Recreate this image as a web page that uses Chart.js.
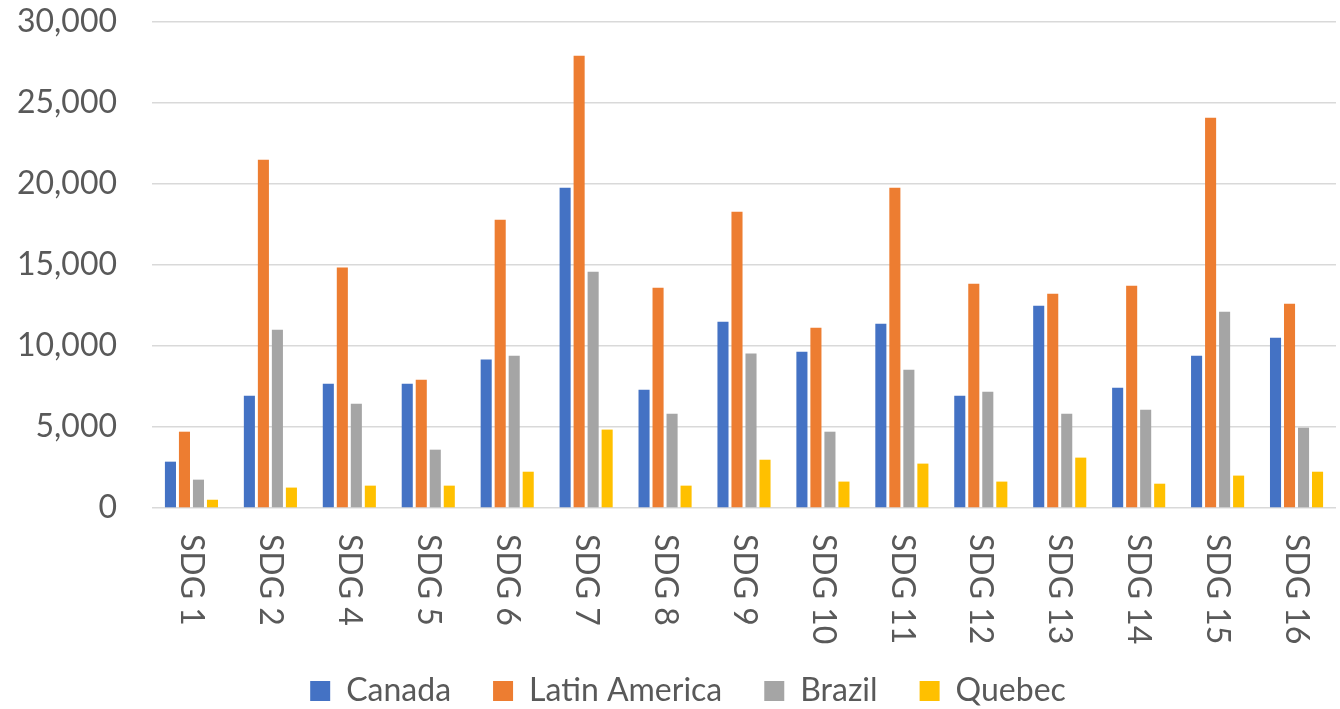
<!DOCTYPE html>
<html>
<head>
<meta charset="utf-8">
<script src="https://cdn.jsdelivr.net/npm/chart.js@4"></script>
<style>
  html, body { margin: 0; padding: 0; background: #fff; }
  #wrap { width: 1340px; height: 709px; }
</style>
</head>
<body>
<div id="wrap"><canvas id="myChart"></canvas></div>
<script>
const categories = ['SDG 1', 'SDG 2', 'SDG 4', 'SDG 5', 'SDG 6', 'SDG 7', 'SDG 8', 'SDG 9',
  'SDG 10', 'SDG 11', 'SDG 12', 'SDG 13', 'SDG 14', 'SDG 15', 'SDG 16'];
const canada = [2860, 6930, 7670, 7670, 9160, 19770, 7300, 11500, 9650, 11380, 6930, 12490, 7430, 9400, 10510];
const latinAmerica = [4710, 21500, 14840, 7920, 17800, 27920, 13600, 18290, 11130, 19770, 13850, 13230, 13720, 24090, 12610];
const brazil = [1750, 11000, 6440, 3600, 9400, 14590, 5820, 9530, 4710, 8540, 7180, 5820, 6070, 12120, 4960];
const quebec = [510, 1260, 1380, 1380, 2240, 4840, 1380, 2980, 1630, 2740, 1630, 3110, 1500, 2000, 2240];
const yTicks = [0, 5000, 10000, 15000, 20000, 25000, 30000];

const textColor = '#595959';
const fontFamily = 'Lato, "Open Sans", sans-serif';

// category labels read top-to-bottom, so they are drawn here instead of by the axis
const verticalLabels = {
  id: 'verticalLabels',
  afterLayout(chart) {
    // nudge the legend row right of the canvas centre and a little lower
    chart.legend.left += 20;
    chart.legend.right += 20;
    chart.legend.top += 8;
    chart.legend.bottom += 8;
  },
  afterDraw(chart) {
    const ctx = chart.ctx;
    const xs = chart.scales.x;
    ctx.save();
    ctx.fillStyle = textColor;
    ctx.font = '32px ' + fontFamily;
    ctx.textAlign = 'left';
    ctx.textBaseline = 'middle';
    xs.ticks.forEach((t, i) => {
      ctx.save();
      ctx.translate(xs.getPixelForTick(i), xs.top + 26);
      ctx.rotate(Math.PI / 2);
      ctx.fillText(categories[i], 0, 0);
      ctx.restore();
    });
    ctx.restore();
  }
};

const ctx = document.getElementById('myChart');

new Chart(ctx, {
  type: 'bar',
  data: {
    labels: categories,
    datasets: [
      { label: 'Canada', data: canada, backgroundColor: '#4472C4' },
      { label: 'Latin America', data: latinAmerica, backgroundColor: '#ED7D31' },
      { label: 'Brazil', data: brazil, backgroundColor: '#A5A5A5' },
      { label: 'Quebec', data: quebec, backgroundColor: '#FFC000' }
    ]
  },
  options: {
    responsive: true,
    maintainAspectRatio: false,
    animation: false,
    datasets: {
      bar: { categoryPercentage: 0.71, barPercentage: 0.79 }
    },
    layout: { padding: { top: 22, left: 0, right: 4, bottom: 0 } },
    scales: {
      x: {
        grid: { display: false },
        border: { display: false },
        ticks: { display: false },
        afterFit(scale) { scale.height = 117; }
      },
      y: {
        min: 0,
        max: 30000,
        afterBuildTicks(scale) { scale.ticks = yTicks.map(v => ({ value: v })); },
        afterFit(scale) {
          scale.width = 152;
          scale.paddingTop = 0;
          scale.paddingBottom = 0;
        },
        border: { display: false },
        grid: { color: '#d9d9d9', lineWidth: 1.4, drawTicks: false },
        ticks: {
          padding: 35,
          color: textColor,
          font: { family: fontFamily, size: 32 },
          callback: v => v.toLocaleString('en-US')
        }
      }
    },
    plugins: {
      tooltip: { enabled: false },
      legend: {
        position: 'bottom',
        labels: {
          boxWidth: 20,
          boxHeight: 20,
          padding: 42,
          color: textColor,
          font: { family: fontFamily, size: 32 }
        }
      }
    }
  },
  plugins: [verticalLabels]
});
</script>
</body>
</html>
